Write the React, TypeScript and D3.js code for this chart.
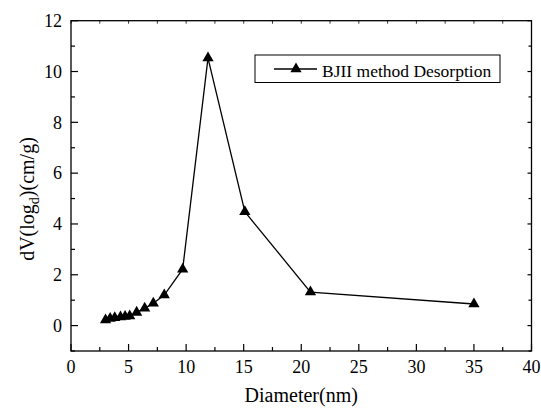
import React from "react";
import * as d3 from "d3";

// pore diameter (nm) and dV(log d)
const diameters = [3.0, 3.4, 3.8, 4.3, 4.7, 5.1, 5.7, 6.4, 7.15, 8.1, 9.7, 11.9, 15.1, 20.8, 35.0];
const dvValues = [0.22, 0.28, 0.31, 0.34, 0.36, 0.38, 0.52, 0.68, 0.88, 1.2, 2.22, 10.53, 4.48, 1.32, 0.85];

const xTicks = [0, 5, 10, 15, 20, 25, 30, 35, 40];
const yTicks = [0, 2, 4, 6, 8, 10, 12];
const xMinor = [2.5, 7.5, 12.5, 17.5, 22.5, 27.5, 32.5, 37.5];
const yMinor = [-1, 1, 3, 5, 7, 9, 11];

const seriesName = "BJII method Desorption";
const xLabel = "Diameter(nm)";

export default function App() {
  const width = 541;
  const height = 410;
  const font = "Liberation Serif, DejaVu Serif, serif";

  const x = d3.scaleLinear().domain([0, 40]).range([71, 531.5]);
  const y = d3.scaleLinear().domain([-1, 12]).range([351, 20.7]);

  const pts = diameters.map((d, i) => ({ d, v: dvValues[i] }));

  const line = d3
    .line<{ d: number; v: number }>()
    .x((p) => x(p.d))
    .y((p) => y(p.v));

  const tri = d3.symbol().type(d3.symbolTriangle).size(55)();

  const left = x(0);
  const right = x(40);
  const top = y(12);
  const bottom = y(-1);
  const txt = { fontFamily: font };

  return (
    <svg
      width={width}
      height={height}
      style={{ position: "absolute", left: 0, top: 0, background: "#fff", fontFamily: font }}
    >
      <rect x={0} y={0} width={width} height={height} fill="#fff" />

      {/* frame */}
      <rect
        x={left}
        y={top}
        width={right - left}
        height={bottom - top}
        fill="none"
        stroke="#000"
        strokeWidth={1.3}
      />

      {/* x ticks */}
      {xTicks.map((t) => (
        <g key={"xt" + t}>
          <line x1={x(t)} x2={x(t)} y1={bottom} y2={bottom - 7} stroke="#000" strokeWidth={1.2} />
          <line x1={x(t)} x2={x(t)} y1={top} y2={top + 3} stroke="#000" strokeWidth={0.8} />
          <text x={x(t)} y={373} fontSize={18} textAnchor="middle" style={txt}>
            {t}
          </text>
        </g>
      ))}
      {xMinor.map((t) => (
        <g key={"xm" + t}>
          <line x1={x(t)} x2={x(t)} y1={bottom} y2={bottom - 4} stroke="#000" strokeWidth={1.2} />
          <line x1={x(t)} x2={x(t)} y1={top} y2={top + 3} stroke="#000" strokeWidth={0.8} />
        </g>
      ))}

      {/* y ticks */}
      {yTicks.map((t) => (
        <g key={"yt" + t}>
          <line x1={left} x2={left + 7} y1={y(t)} y2={y(t)} stroke="#000" strokeWidth={1.2} />
          <line x1={right} x2={right - 4} y1={y(t)} y2={y(t)} stroke="#000" strokeWidth={1.2} />
          <text x={62} y={y(t)} dy="0.35em" fontSize={18} textAnchor="end" style={txt}>
            {t}
          </text>
        </g>
      ))}
      {yMinor.map((t) => (
        <g key={"ym" + t}>
          <line x1={left} x2={left + 4} y1={y(t)} y2={y(t)} stroke="#000" strokeWidth={1.2} />
          <line x1={right} x2={right - 3} y1={y(t)} y2={y(t)} stroke="#000" strokeWidth={1.2} />
        </g>
      ))}

      {/* series */}
      <path d={line(pts) ?? ""} fill="none" stroke="#000" strokeWidth={1.3} />
      {pts.map((p, i) => (
        <path key={"m" + i} d={tri ?? ""} transform={`translate(${x(p.d)},${y(p.v)})`} fill="#000" />
      ))}

      {/* legend */}
      <rect x={255} y={55} width={245} height={27.5} fill="#fff" stroke="#000" strokeWidth={1} />
      <line x1={274} x2={317} y1={69} y2={69} stroke="#000" strokeWidth={1.3} />
      <path d={tri ?? ""} transform="translate(296,69)" fill="#000" />
      <text x={322} y={76.5} fontSize={17.5} style={txt}>
        {seriesName}
      </text>

      {/* axis titles */}
      <text x={(left + right) / 2} y={402} fontSize={20} textAnchor="middle" style={txt}>
        {xLabel}
      </text>
      <text transform="translate(34,199) rotate(-90)" fontSize={20} textAnchor="middle" style={txt}>
        dV(log
        <tspan fontSize={14} dy={5}>
          d
        </tspan>
        <tspan dy={-5}>)(cm/g)</tspan>
      </text>
    </svg>
  );
}
